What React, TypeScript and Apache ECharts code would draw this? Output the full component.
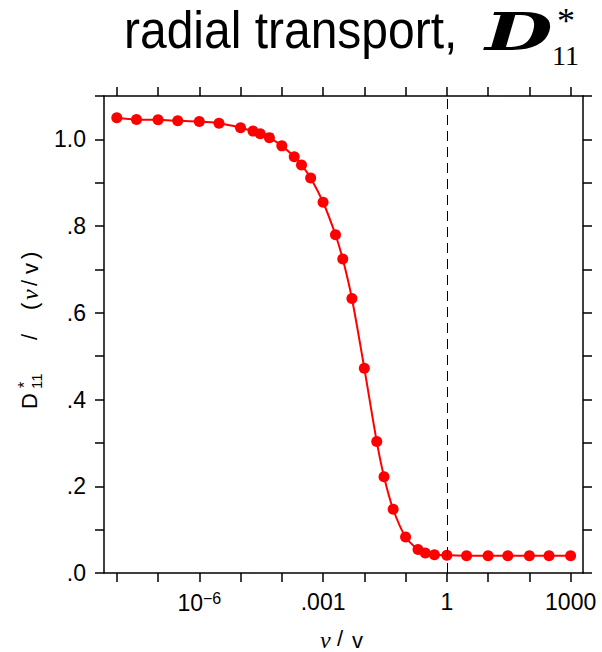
import React, { useEffect, useRef } from "react";
import * as echarts from "echarts";

// collisionality nu/v values
const nuValues = [
  1e-8, 3e-8, 1e-7, 3e-7, 1e-6, 3e-6, 1e-5, 2e-5, 3e-5, 5e-5,
  1e-4, 2e-4, 3e-4, 5e-4, 1e-3, 2e-3, 3e-3, 5e-3, 1e-2, 2e-2,
  3e-2, 5e-2, 0.1, 0.2, 0.3, 0.5, 1, 3, 10, 30, 100, 300, 1000,
];
// normalized D*11
const d11Values = [
  1.05, 1.046, 1.045, 1.043, 1.041, 1.037, 1.027, 1.019, 1.013, 1.004,
  0.985, 0.96, 0.941, 0.911, 0.855, 0.78, 0.724, 0.633, 0.472, 0.303,
  0.222, 0.147, 0.083, 0.054, 0.046, 0.042, 0.041, 0.04, 0.04, 0.04,
  0.04, 0.04, 0.04,
];
const xTickExponents = [-8, -7, -6, -5, -4, -3, -2, -1, 0, 1, 2, 3];
const xLabelExponents = [-6, -3, 0, 3];
const xLabelTexts = ["{n|10}{s|\u22126}", ".001", "1", "1000"];
const yTickValues = [0, 0.1, 0.2, 0.3, 0.4, 0.5, 0.6, 0.7, 0.8, 0.9, 1.0, 1.1];
const yLabelValues = [0, 0.2, 0.4, 0.6, 0.8, 1.0];
const yLabelTexts = [".0", ".2", ".4", ".6", ".8", "1.0"];
const dashAt = 1;

const SANS = "'Liberation Sans', Arial, sans-serif";
const SERIF = "'Liberation Serif', 'Times New Roman', serif";

export default function App() {
  const ref = useRef<HTMLDivElement>(null);
  useEffect(() => {
    if (!ref.current) return;
    const chart = echarts.init(ref.current, undefined, { renderer: "svg" });
    const axisLine = { show: true, onZero: false, lineStyle: { color: "#000", width: 1.5 } };
    const xTick = { show: true, inside: false, length: 9, customValues: xTickExponents, lineStyle: { color: "#000", width: 1.5 } };
    const yTick = { show: true, inside: false, length: 9, customValues: yTickValues, lineStyle: { color: "#000", width: 1.5 } };
    const xMin = -8.31, xMax = 3.3;
    const lab = (t: string, o: any) => ({ type: "text", style: { text: t, fill: "#000", ...o } });
    chart.setOption({
      animation: false,
      grid: { left: 104, top: 96, width: 479, height: 477 },
      xAxis: [
        {
          type: "value", min: xMin, max: xMax, position: "bottom",
          axisLine, axisTick: xTick, splitLine: { show: false },
          axisLabel: {
            customValues: xLabelExponents, margin: 17, color: "#000",
            fontFamily: SANS, fontSize: 23,
            formatter: (v: number) => xLabelTexts[xLabelExponents.indexOf(Math.round(v))] ?? "",
            rich: {
              n: { fontFamily: SANS, fontSize: 23, lineHeight: 25, color: "#000" },
              s: { fontFamily: SANS, fontSize: 16, lineHeight: 10, verticalAlign: "top", color: "#000" },
            },
          },
        },
        {
          type: "value", min: xMin, max: xMax, position: "top",
          axisLine, axisTick: xTick, splitLine: { show: false }, axisLabel: { show: false },
        },
      ],
      yAxis: [
        {
          type: "value", min: 0, max: 1.1, position: "left",
          axisLine, axisTick: yTick, splitLine: { show: false },
          axisLabel: {
            customValues: yLabelValues, margin: 18, color: "#000", fontFamily: SANS, fontSize: 23,
            formatter: (v: number) => {
              const i = yLabelValues.findIndex((x) => Math.abs(x - v) < 1e-6);
              return i >= 0 ? yLabelTexts[i] : "";
            },
          },
        },
        {
          type: "value", min: 0, max: 1.1, position: "right",
          axisLine, axisTick: yTick, splitLine: { show: false }, axisLabel: { show: false },
        },
      ],
      series: [
        {
          type: "line",
          xAxisIndex: 0, yAxisIndex: 0,
          data: nuValues.map((x, i) => [Math.log10(x), d11Values[i]]),
          smooth: 0.3,
          symbol: "circle", symbolSize: 11,
          itemStyle: { color: "#ff0000" },
          lineStyle: { color: "#ff0000", width: 2 },
          markLine: {
            silent: true, symbol: "none", animation: false,
            label: { show: false },
            lineStyle: { color: "#000", width: 1, type: [10, 6] },
            data: [{ xAxis: Math.log10(dashAt) }],
          },
        },
      ],
      graphic: [
        {
          type: "text", x: 124, y: 32, scaleY: 1.08, originY: 17,
          style: { text: "radial transport,", fill: "#000", font: `48px ${SANS}`, verticalAlign: "middle" },
        },
        {
          type: "text", x: 485, y: 32, scaleX: 1.5,
          style: { text: "D", fill: "#000", font: `bold italic 52px 'DejaVu Serif', serif`, verticalAlign: "middle" },
        },
        lab("*", { x: 566, y: 21, font: `36px ${SERIF}`, align: "center", verticalAlign: "middle" }),
        lab("11", { x: 552, y: 55, font: `28px ${SERIF}`, verticalAlign: "middle" }),
        // x axis name
        lab("\u03bd", { x: 320, y: 640, font: `italic 24px ${SERIF}`, verticalAlign: "middle" }),
        lab("/", { x: 337, y: 638, font: `22px ${SANS}`, verticalAlign: "middle" }),
        lab("v", { x: 352, y: 640, font: `22px ${SANS}`, verticalAlign: "middle" }),
        // y axis name (rotated)
        {
          type: "group", x: 29, y: 0, rotation: Math.PI / 2,
          children: [
            lab("D", { x: -409, y: 0, font: `22px ${SANS}`, verticalAlign: "middle" }),
            lab("*", { x: -388, y: -5, font: `16px ${SANS}`, lineHeight: 10, verticalAlign: "middle" }),
            lab("11", { x: -389, y: 7, font: `15px ${SANS}`, lineHeight: 10, verticalAlign: "middle" }),
            lab("/", { x: -340, y: 0, font: `22px ${SANS}`, verticalAlign: "middle" }),
            lab("(", { x: -310, y: 0, font: `22px ${SANS}`, verticalAlign: "middle" }),
            lab("\u03bd", { x: -300, y: 1, font: `italic 24px ${SERIF}`, verticalAlign: "middle" }),
            lab("/", { x: -286, y: 0, font: `22px ${SANS}`, verticalAlign: "middle" }),
            lab("v", { x: -274, y: 1, font: `22px ${SANS}`, verticalAlign: "middle" }),
            lab(")", { x: -259, y: 0, font: `22px ${SANS}`, verticalAlign: "middle" }),
          ],
        },
      ],
    });
    return () => chart.dispose();
  }, []);
  return <div ref={ref} style={{ width: 602, height: 652, position: "absolute", left: 0, top: 0 }} />;
}
